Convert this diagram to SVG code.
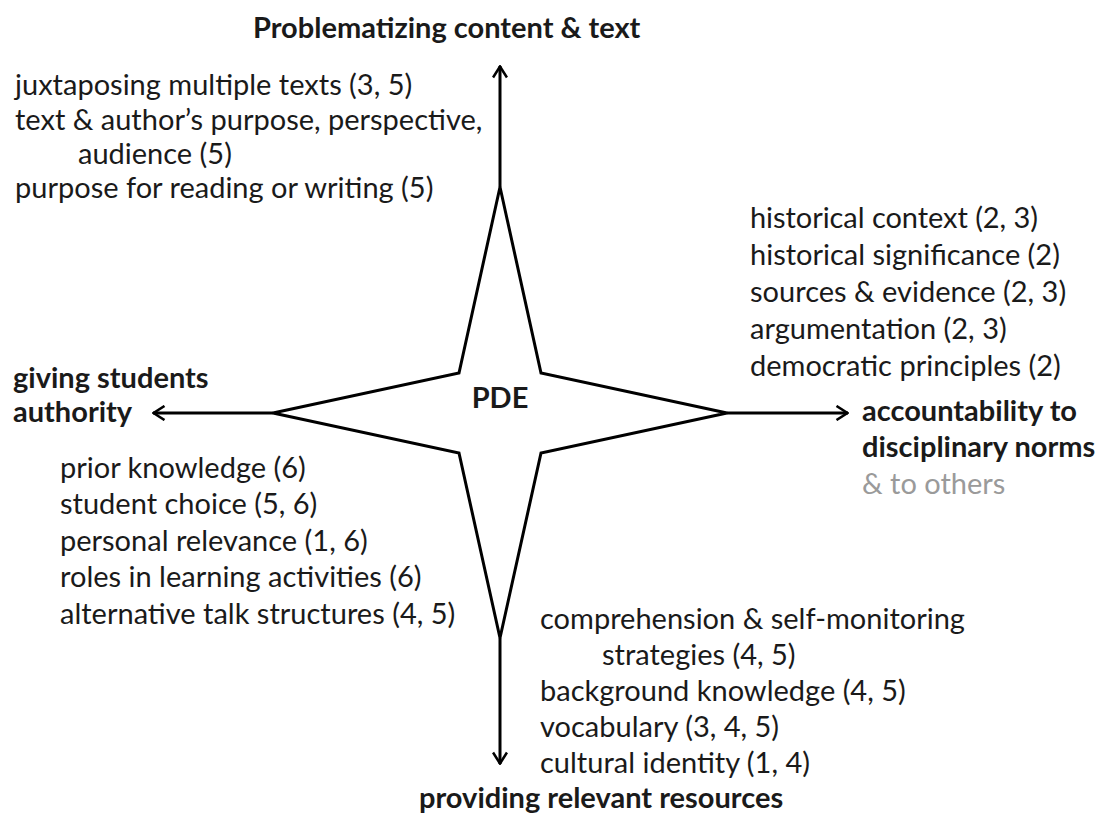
<svg xmlns="http://www.w3.org/2000/svg" width="1101" height="815" viewBox="0 0 1101 815">
  <style>
    text { font-family: Lato, "Open Sans", "Liberation Sans", sans-serif; font-size: 29px; fill: #1a1a1a; }
    .b { font-weight: bold; }
    .g { fill: #9a9a9a; }
    .ax { stroke: #000; stroke-width: 3; fill: none; }
  </style>
  <defs>
    <marker id="ah" viewBox="0 0 14 16" refX="13" refY="8" markerWidth="14" markerHeight="16" markerUnits="userSpaceOnUse" orient="auto">
      <path d="M1.5,1 L12.5,8 L1.5,15" fill="none" stroke="#000" stroke-width="2.6" stroke-linejoin="miter"/>
    </marker>
  </defs>
  <rect width="1101" height="815" fill="#fff"/>

  <g id="connectors">
    <line class="ax" x1="500" y1="187" x2="500" y2="66" marker-end="url(#ah)"/>
    <line class="ax" x1="500" y1="638" x2="500" y2="764" marker-end="url(#ah)"/>
    <line class="ax" x1="273" y1="413" x2="153" y2="413" marker-end="url(#ah)"/>
    <line class="ax" x1="727" y1="413" x2="848" y2="413" marker-end="url(#ah)"/>
  </g>

  <g id="pde">
    <polygon points="500,187 541,373 727,413 541,453 500,638 459,453 273,413 459,373" fill="#fff" stroke="#000" stroke-width="3" stroke-linejoin="miter"/>
    <text class="b" x="500" y="408" text-anchor="middle">PDE</text>
  </g>

  <g id="top">
    <text class="b" x="253" y="38">Problematizing content &amp; text</text>
    <text x="15" y="95">juxtaposing multiple texts (3, 5)</text>
    <text x="15" y="130">text &amp; author’s purpose, perspective,</text>
    <text x="78" y="164">audience (5)</text>
    <text x="15" y="198">purpose for reading or writing (5)</text>
  </g>

  <g id="right">
    <text x="750" y="228" textLength="288" lengthAdjust="spacing">historical context (2, 3)</text>
    <text x="750" y="265">historical significance (2)</text>
    <text x="750" y="302">sources &amp; evidence (2, 3)</text>
    <text x="750" y="339">argumentation (2, 3)</text>
    <text x="750" y="376">democratic principles (2)</text>
    <text class="b" x="862" y="421">accountability to</text>
    <text class="b" x="862" y="457">disciplinary norms</text>
    <text class="g" x="862" y="494">&amp; to others</text>
  </g>

  <g id="left">
    <text class="b" x="13" y="388">giving students</text>
    <text class="b" x="13" y="422">authority</text>
    <text x="60" y="478">prior knowledge (6)</text>
    <text x="60" y="514">student choice (5, 6)</text>
    <text x="60" y="551">personal relevance (1, 6)</text>
    <text x="60" y="587">roles in learning activities (6)</text>
    <text x="60" y="624">alternative talk structures (4, 5)</text>
  </g>

  <g id="bottom">
    <text x="540" y="629">comprehension &amp; self-monitoring</text>
    <text x="602" y="665">strategies (4, 5)</text>
    <text x="540" y="701">background knowledge (4, 5)</text>
    <text x="540" y="737">vocabulary (3, 4, 5)</text>
    <text x="540" y="773">cultural identity (1, 4)</text>
    <text class="b" x="419" y="808">providing relevant resources</text>
  </g>
</svg>
